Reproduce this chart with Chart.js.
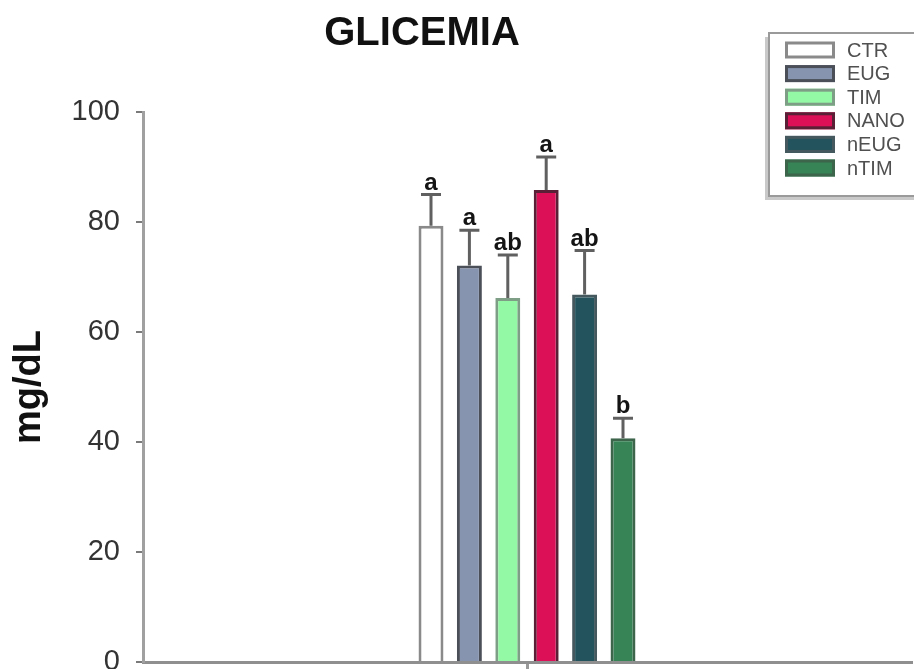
<!DOCTYPE html>
<html>
<head>
<meta charset="utf-8">
<title>GLICEMIA</title>
<script src="https://cdn.jsdelivr.net/npm/chart.js@4/dist/chart.umd.min.js"></script>
<style>
  html, body { margin: 0; padding: 0; background: #ffffff; }
  #wrap { width: 914px; height: 669px; position: relative; }
</style>
</head>
<body>
<div id="wrap"><canvas id="chart" width="914" height="669"></canvas></div>
<script>
// Blood glucose by treatment group (mean ± error, mg/dL)
const categories = [''];
const groups = ['CTR', 'EUG', 'TIM', 'NANO', 'nEUG', 'nTIM'];
const means = [79.3, 72.1, 66.2, 85.8, 66.8, 40.7];
const errors = [5.7, 6.4, 7.8, 6.0, 8.0, 3.6];
const letters = ['a', 'a', 'ab', 'a', 'ab', 'b'];
const yTicks = [0, 20, 40, 60, 80, 100];

const fillColors = ['#ffffff', '#8794b0', '#93f9a5', '#dc1057', '#23545d', '#378457'];
const edgeColors = ['#8a8a8a', '#4b4f58', '#7f9e86', '#5a2035', '#44585d', '#3d654c'];

const FONT = '"Liberation Sans", Arial, Helvetica, sans-serif';

const datasets = groups.map((g, i) => ({
  label: g,
  data: [means[i]],
  backgroundColor: fillColors[i],
  borderColor: edgeColors[i],
  borderWidth: 3,
  borderSkipped: 'bottom',
  barPercentage: 0.65,
  categoryPercentage: 0.3
}));

// Error bars and significance letters above each bar
const errorBarPlugin = {
  id: 'errorBars',
  afterDatasetsDraw(chart) {
    const ctx = chart.ctx;
    const y = chart.scales.y;
    ctx.save();
    chart.data.datasets.forEach((ds, i) => {
      const meta = chart.getDatasetMeta(i);
      const bar = meta.data[0];
      if (!bar) return;
      const top = y.getPixelForValue(means[i] + errors[i]);
      ctx.strokeStyle = '#606060';
      ctx.lineWidth = 3;
      ctx.beginPath();
      ctx.moveTo(bar.x, bar.y);
      ctx.lineTo(bar.x, top);
      ctx.moveTo(bar.x - 10, top);
      ctx.lineTo(bar.x + 10, top);
      ctx.stroke();
      ctx.fillStyle = '#141414';
      ctx.font = 'bold 24px ' + FONT;
      ctx.textAlign = 'center';
      ctx.textBaseline = 'alphabetic';
      ctx.fillText(letters[i], bar.x, top - 5);
    });
    ctx.restore();
  }
};

// Heading text
const headingPlugin = {
  id: 'heading',
  afterDraw(chart) {
    const ctx = chart.ctx;
    ctx.save();
    ctx.fillStyle = '#111111';
    ctx.font = 'bold 40px ' + FONT;
    ctx.textAlign = 'center';
    ctx.textBaseline = 'alphabetic';
    ctx.fillText('GLICEMIA', 422, 45);
    ctx.restore();
  }
};

// Boxed key in the upper right corner
const keyPlugin = {
  id: 'keyBox',
  afterDraw(chart) {
    const ctx = chart.ctx;
    const bx = 769, by = 33, bw = 150, bh = 163;
    ctx.save();
    ctx.fillStyle = '#c9c9c9';
    ctx.fillRect(bx - 4, by + 4, bw, bh);
    ctx.fillStyle = '#ffffff';
    ctx.fillRect(bx, by, bw, bh);
    ctx.strokeStyle = '#9a9a9a';
    ctx.lineWidth = 2;
    ctx.strokeRect(bx, by, bw, bh);
    ctx.font = '20px ' + FONT;
    ctx.textAlign = 'left';
    ctx.textBaseline = 'middle';
    chart.data.datasets.forEach((ds, i) => {
      const cy = 50 + i * 23.6;
      ctx.fillStyle = ds.backgroundColor;
      ctx.fillRect(785, cy - 8.5, 50, 17);
      ctx.strokeStyle = ds.borderColor;
      ctx.lineWidth = 3;
      ctx.strokeRect(786.5, cy - 7, 47, 14);
      ctx.fillStyle = '#505050';
      ctx.fillText(ds.label, 847, cy + 1);
    });
    ctx.restore();
  }
};

new Chart(document.getElementById('chart'), {
  type: 'bar',
  data: { labels: categories, datasets },
  options: {
    responsive: false,
    animation: false,
    events: [],
    layout: { padding: { top: 112, right: 3, bottom: 0, left: 0 } },
    plugins: {
      legend: { display: false },
      title: { display: false },
      tooltip: { enabled: false }
    },
    scales: {
      x: {
        offset: true,
        grid: { drawOnChartArea: false, offset: false, drawTicks: true, tickLength: 7, color: '#9a9a9a', lineWidth: 3 },
        border: { display: true, color: '#8f8f8f', width: 3 },
        ticks: { display: false },
        afterFit(s) { s.height = 7; s.paddingLeft = 0; s.paddingRight = 0; }
      },
      y: {
        min: 0,
        max: 100,
        afterBuildTicks(s) { s.ticks = yTicks.map(v => ({ value: v })); },
        grid: { drawOnChartArea: false, drawTicks: true, tickLength: 7, color: '#7a7a7a', lineWidth: 2 },
        border: { display: true, color: '#a0a0a0', width: 3 },
        ticks: { padding: 16, color: '#333333', font: { family: FONT, size: 29 } },
        title: {
          display: true,
          text: 'mg/dL',
          color: '#111111',
          font: { family: FONT, size: 38, weight: 'bold' },
          padding: { top: 7, bottom: 0 }
        },
        afterFit(s) { s.width = 143; s.paddingTop = 0; s.paddingBottom = 0; }
      }
    }
  },
  plugins: [errorBarPlugin, headingPlugin, keyPlugin]
});
</script>
</body>
</html>
